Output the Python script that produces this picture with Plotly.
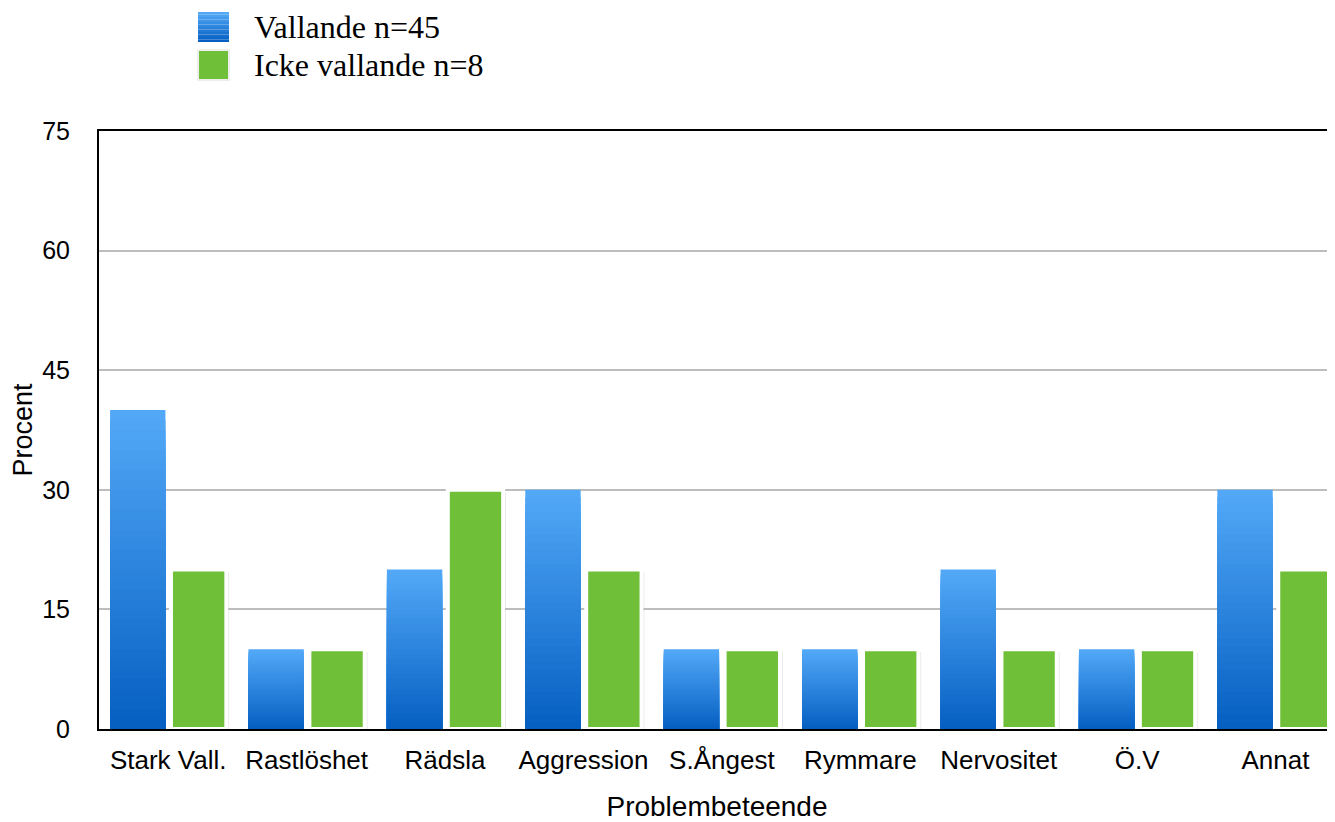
import plotly.graph_objects as go

categories = ["Stark Vall.", "Rastlöshet", "Rädsla", "Aggression", "S.Ångest",
              "Rymmare", "Nervositet", "Ö.V", "Annat"]
vallande = [40, 10, 20, 30, 10, 10, 20, 10, 30]
icke_vallande = [20, 10, 30, 20, 10, 10, 10, 10, 20]
name_vallande = "Vallande n=45"
name_icke = "Icke vallande n=8"
y_ticks = [0, 15, 30, 45, 60, 75]

# page has an 8px body margin; figure sized so it fills the window
W, H = 1327, 814
ML, MR, MT, MB = 91, 0, 123, 93
PW = W - ML - MR
PH = H - MT - MB
OFF = 8  # body margin offset (window px -> figure px)

def px_x(p):
    return (p - OFF - ML) / PW

def px_y(p):
    return (H - MB - (p - OFF)) / PH

BLUE_TOP = (82, 168, 247)
BLUE_BOT = (6, 96, 194)
GREEN = "#6fbf39"

def lerp(t):
    return "rgb(%d,%d,%d)" % tuple(round(BLUE_TOP[i] + (BLUE_BOT[i] - BLUE_TOP[i]) * t) for i in range(3))

fig = go.Figure()

# Blue bars with a vertical gradient built from stacked overlay steps
N = 32
for k in range(N):
    t = k / (N - 1)
    fig.add_trace(go.Bar(
        x=categories,
        y=[v * (N - k) / N for v in vallande],
        name=name_vallande,
        legendgroup="v",
        showlegend=False,
        marker=dict(color=lerp(t), line=dict(width=0)),
        offset=-0.42, width=0.40,
        hoverinfo="skip" if k else None,
    ))

# shadow for green bars
fig.add_trace(go.Bar(
    x=categories, y=icke_vallande, base=-0.35, showlegend=False,
    marker=dict(color="rgba(0,0,0,0.10)", line=dict(width=0)),
    offset=0.03, width=0.41, hoverinfo="skip",
))

fig.add_trace(go.Bar(
    x=categories,
    y=icke_vallande,
    name=name_icke,
    legendgroup="i",
    showlegend=False,
    marker=dict(color=GREEN, line=dict(color="white", width=4)),
    offset=0.02, width=0.40,
))

# Legend drawn as shapes + text (large square swatches like the original)
shapes = []
annotations = []
legend_rows = [(name_vallande, 12, "blue"), (name_icke, 50, "green")]
for label, top, kind in legend_rows:
    x0, x1 = px_x(198), px_x(229)
    if kind == "blue":
        steps = 12
        for s in range(steps):
            ya = top + 30 * s / steps
            yb = top + 30 * (s + 1) / steps
            shapes.append(dict(type="rect", xref="paper", yref="paper",
                               x0=x0, x1=x1, y0=px_y(yb), y1=px_y(ya),
                               fillcolor=lerp(s / (steps - 1)), line=dict(width=0)))
    else:
        shapes.append(dict(type="rect", xref="paper", yref="paper",
                           x0=x0, x1=x1, y0=px_y(top + 30), y1=px_y(top),
                           fillcolor=GREEN, line=dict(color="#eeeeee", width=2)))
    annotations.append(dict(text=label, xref="paper", yref="paper",
                            x=px_x(252), y=px_y(top + 15), xanchor="left", yanchor="middle",
                            showarrow=False,
                            font=dict(family="Liberation Serif, Times New Roman", size=32, color="black")))

fig.update_layout(
    width=W, height=H,
    margin=dict(l=ML, r=MR, t=MT, b=MB),
    barmode="overlay",
    plot_bgcolor="white", paper_bgcolor="white",
    font=dict(family="Liberation Sans, Arial", color="black", size=25),
    showlegend=False,
    shapes=shapes,
    annotations=annotations,
    xaxis=dict(
        type="category",
        range=[-0.5, 8.43],
        showline=True, linecolor="black", linewidth=2, mirror=True,
        showgrid=False, ticks="",
        tickfont=dict(size=26),
        ticklabelstandoff=7,
        automargin=False,
        title=dict(text="Problembeteende", font=dict(size=28), standoff=31),
    ),
    yaxis=dict(
        range=[0, 75],
        tickvals=y_ticks,
        showline=True, linecolor="black", linewidth=2,
        showgrid=True, gridcolor="#bdbdbd", gridwidth=2,
        ticks="", ticklabelstandoff=22,
        tickfont=dict(size=25),
        zeroline=False,
        automargin=False,
        title=dict(text="Procent", font=dict(size=27), standoff=30),
    ),
)

fig.write_html("out.html")
